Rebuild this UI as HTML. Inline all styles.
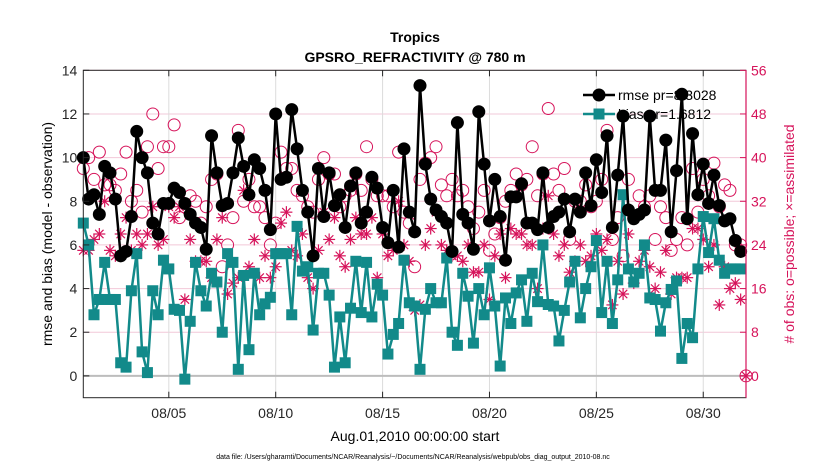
<!DOCTYPE html>
<html><head><meta charset="utf-8"><style>
body{margin:0;background:#fff;}
svg{display:block;font-family:"Liberation Sans",Arial,sans-serif;}
</style></head><body>
<svg id="chart" width="830" height="470" viewBox="0 0 830 470" xmlns="http://www.w3.org/2000/svg">
<rect width="830" height="470" fill="#fff"/>
<text x="415" y="42" text-anchor="middle" font-size="14" font-weight="bold">Tropics</text>
<text x="415" y="62" text-anchor="middle" font-size="14" font-weight="bold">GPSRO_REFRACTIVITY @ 780 m</text>
<g id="grid"></g>
<g id="legend">
 <line x1="583" y1="95" x2="615" y2="95" stroke="#000" stroke-width="2.5"/>
 <circle cx="599" cy="95" r="6.5" fill="#000"/>
 <text x="618" y="100" font-size="14">rmse pr=8.3028</text>
 <line x1="583" y1="114" x2="615" y2="114" stroke="#128a8a" stroke-width="2.5"/>
 <rect x="593.5" y="108.5" width="11" height="11" fill="#128a8a"/>
 <text x="618" y="119" font-size="14">bias pr=1.6812</text>
</g>
<g id="marks"></g>
<g id="axes"></g>
<text transform="translate(52,234) rotate(-90)" text-anchor="middle" font-size="14">rmse and bias (model - observation)</text>
<text transform="translate(794,234) rotate(-90)" text-anchor="middle" font-size="14" fill="#d6135a"># of obs: o=possible; ×=assimilated</text>
<text x="415" y="441" text-anchor="middle" font-size="14">Aug.01,2010 00:00:00 start</text>
<text x="413" y="459" text-anchor="middle" font-size="7">data file: /Users/gharamti/Documents/NCAR/Reanalysis/~/Documents/NCAR/Reanalysis/webpub/obs_diag_output_2010-08.nc</text>
</svg>
<script>
const rmse=[10.0,8.1,8.3,7.4,9.6,9.3,8.1,5.5,5.7,7.3,11.2,10.0,9.3,7.0,6.5,7.9,7.9,8.6,8.4,7.9,7.4,7.0,6.8,5.8,11.0,9.3,7.8,7.9,9.3,10.9,9.6,8.3,9.9,9.5,8.5,6.7,12.0,9.0,9.1,12.2,10.4,8.5,7.5,5.5,9.5,7.3,9.3,7.8,8.3,6.8,8.7,9.3,7.0,7.5,9.1,8.6,6.8,6.1,8.5,5.9,10.4,7.5,6.6,13.3,9.7,8.1,7.6,7.3,7.0,5.7,11.6,7.4,7.0,5.8,12.1,9.7,7.1,9.0,7.3,5.3,8.2,8.2,8.8,7.0,7.0,6.7,9.3,6.8,7.3,7.5,8.1,6.6,8.1,7.5,9.3,7.8,9.9,8.4,11.0,6.8,9.2,11.9,7.6,7.2,7.4,7.6,11.9,8.5,8.5,10.8,6.6,9.4,12.9,7.2,11.1,8.3,9.7,7.9,9.2,7.8,7.1,7.2,6.2,5.7];
const bias=[7.0,6.0,2.8,3.5,5.2,3.5,3.5,0.6,0.4,3.9,5.6,1.1,0.15,3.9,2.8,5.3,4.9,3.05,3.0,-0.15,2.5,5.2,3.9,3.2,4.7,4.3,2.0,5.6,5.2,0.3,4.6,1.2,4.7,2.8,3.3,3.6,5.6,5.6,5.6,2.8,6.85,4.8,5.0,2.1,4.7,4.7,3.7,0.4,2.7,0.6,3.1,5.25,2.9,5.2,2.7,4.2,3.7,1.0,1.9,2.4,5.3,3.35,3.2,0.3,3.05,4.0,3.35,3.35,5.4,2.0,1.4,4.7,3.65,1.5,4.0,2.8,4.95,3.2,0.45,3.57,2.4,3.8,4.4,2.5,4.7,3.4,6.0,3.27,3.2,1.6,3.0,4.3,5.25,2.66,4.0,5.0,6.2,2.9,5.25,2.4,4.4,8.3,4.9,4.3,4.7,6.0,3.57,3.5,2.05,3.35,3.96,4.35,0.8,2.4,1.75,4.9,7.3,5.65,7.2,5.3,4.7,4.9,4.9,4.9];
const possible=[38,40,36,41,35,35,34,37,41,32,34,30,42,48,38,42,42,46,29,31,33,32,28,31,36,37,20,24,29,45,32,36,31,31,29,24,28,41,38,38,34,33,31,30,36,40,37,37,31,33,34,37,34,42,36,33,33,33,31,41,30,28,20,36,39,40,42,35,33,36,33,34,31,27,30,34,23,26,29,32,34,37,35,36,42,33,37,49,37,34,38,25,32,32,35,31,32,36,45,25,29,22,36,29,33,31,33,25,31,29,23,25,29,24,38,30,36,33,39,31,35,34,24,24];
const assimilated=[23,23,25,26,32,23,22,26,29,23,26,24,26,31,24,25,31,29,31,14,25,21,21,21,18,25,29,15,17,18,34,20,25,18,22,18,20,28,30,23,22,26,18,16,23,30,25,29,22,20,25,29,26,26,29,18,26,22,23,32,24,21,12,13,24,27,30,24,23,22,22,21,24,19,19,24,14,22,26,18,27,26,26,24,24,16,27,33,26,22,24,19,21,24,21,22,26,23,25,13,21,15,26,17,21,23,20,16,19,23,15,18,18,18,27,27,25,20,24,13,20,16,17,14];
const xTickDays=[4,9,14,19,24,29];
const xTickLabels=["08/05","08/10","08/15","08/20","08/25","08/30"];
const yTicks=[0,2,4,6,8,10,12,14];
const y2Ticks=[0,8,16,24,32,40,48,56];
const stepDays=0.25;
const X0=83.3,X1=746,Y0=70.3,Y1=397.7;
const xS=d=>X0+(d/31)*(X1-X0);
const yS=v=>Y1-(v+1)/15*(Y1-Y0);
const y2S=c=>Y1-(c+4)/60*(Y1-Y0);
const NS="http://www.w3.org/2000/svg";
function mk(tag,attrs,parent){const e=document.createElementNS(NS,tag);for(const k in attrs)e.setAttribute(k,attrs[k]);parent.appendChild(e);return e;}
const grid=document.getElementById('grid'),marks=document.getElementById('marks'),axes=document.getElementById('axes');
const CR="#d6135a",TE="#128a8a";
y2Ticks.forEach(c=>{if(c===0)return;const g=mk('line',{x1:X0,x2:X1,y1:y2S(c),y2:y2S(c),stroke:'#f2c8d8','stroke-width':1},grid);

});
xTickDays.forEach(d=>{const g=mk('line',{x1:xS(d),x2:xS(d),y1:Y0,y2:Y1,stroke:'#dcdcdc','stroke-width':1},grid);

});
const zl=mk('line',{x1:X0,x2:X1,y1:yS(0),y2:yS(0),stroke:'#bdbdbd','stroke-width':2},grid);


function poly(arr,color,name){const pts=arr.map((v,i)=>xS(i*stepDays).toFixed(1)+','+yS(v).toFixed(1)).join(' ');
const p=mk('polyline',{points:pts,fill:'none',stroke:color,'stroke-width':2.5,'stroke-linejoin':'round'},marks);

}
possible.forEach((c,i)=>{const e=mk('circle',{cx:xS(i*stepDays),cy:y2S(c),r:6,fill:'none',stroke:CR,'stroke-width':1},marks);

});
function star(x,y,s){const g=mk('g',{stroke:CR,'stroke-width':1.2},marks);


mk('line',{x1:x-s,x2:x+s,y1:y,y2:y},g);mk('line',{x1:x,x2:x,y1:y-s,y2:y+s},g);
mk('line',{x1:x-s*.7,x2:x+s*.7,y1:y-s*.7,y2:y+s*.7},g);mk('line',{x1:x-s*.7,x2:x+s*.7,y1:y+s*.7,y2:y-s*.7},g);}
assimilated.forEach((c,i)=>star(xS(i*stepDays),y2S(c),6));
poly(bias,TE,'bias-line');
bias.forEach((v,i)=>{const e=mk('rect',{x:xS(i*stepDays)-5.5,y:yS(v)-5.5,width:11,height:11,fill:TE},marks);

});
poly(rmse,'#000','rmse-line');
rmse.forEach((v,i)=>{const e=mk('circle',{cx:xS(i*stepDays),cy:yS(v),r:6.5,fill:'#000'},marks);

});
const lc=mk('circle',{cx:xS(31),cy:y2S(0),r:6,fill:'none',stroke:CR,'stroke-width':1},marks);


star(xS(31),y2S(0),6);
const fr=mk('rect',{x:X0,y:Y0,width:X1-X0,height:Y1-Y0,fill:'none',stroke:'#262626','stroke-width':1},axes);


const ra=mk('line',{x1:X1,x2:X1,y1:Y0,y2:Y1,stroke:CR,'stroke-width':1.2},axes);


yTicks.forEach(v=>{const y=yS(v);mk('line',{x1:X0,x2:X0+6,y1:y,y2:y,stroke:'#262626'},axes);
const t=mk('text',{x:X0-6,y:y+5,'text-anchor':'end','font-size':14,fill:'#262626'},axes);t.textContent=v;

});
y2Ticks.forEach(c=>{const y=y2S(c);mk('line',{x1:X1-6,x2:X1,y1:y,y2:y,stroke:CR},axes);
const t=mk('text',{x:X1+5,y:y+5,'font-size':14,fill:CR},axes);t.textContent=c;

});
xTickDays.forEach((d,i)=>{const x=xS(d);mk('line',{x1:x,x2:x,y1:Y1,y2:Y1-6,stroke:'#262626'},axes);mk('line',{x1:x,x2:x,y1:Y0,y2:Y0+6,stroke:'#262626'},axes);
const t=mk('text',{x:x,y:418,'text-anchor':'middle','font-size':14,fill:'#262626'},axes);t.textContent=xTickLabels[i];

});
</script>
</body></html>
